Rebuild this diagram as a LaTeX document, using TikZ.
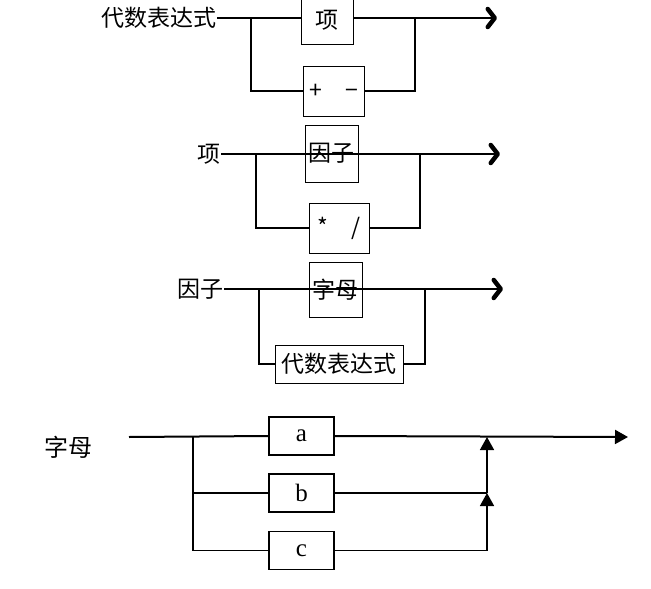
\documentclass[tikz,border=0pt]{standalone}
\usepackage{fontspec}
\setmainfont{Liberation Serif}
\newfontfamily\cjk{Noto Sans CJK SC}
\usetikzlibrary{arrows.meta, positioning}

\begin{document}
\begin{tikzpicture}[
    x=1pt, y=-1pt,
    box/.style={rectangle, draw, line width=1pt, inner sep=0pt,
                font=\cjk\fontsize{23}{23}\selectfont},
    lbl/.style={inner sep=0pt, font=\cjk\fontsize{23}{23}\selectfont},
    line/.style={line width=1.3pt},
    arrow/.style={line width=1.3pt,
                  -{Straight Barb[length=7pt, width=18pt, line width=4.5pt, round=false]}},
    letterbox/.style={rectangle, draw, line width=1.2pt,
                      minimum width=65pt, minimum height=38pt,
                      font=\fontsize{25}{25}\selectfont},
    tri/.style={line width=1.5pt, -{Triangle[length=13pt, width=14pt]}}
]
\clip (0,0) rectangle (651,589);

% Expression
\node[lbl, anchor=east] (exprlbl) at (217,18) {代数表达式};
\node[box, minimum width=52pt, minimum height=48pt] (term) at (327,20) {项};
\node[box, minimum width=61pt, minimum height=50pt] (pm) at (333.5,91) {+\quad−};
\coordinate (e1) at (251,18);
\coordinate (e2) at (415,18);
\coordinate (eend) at (497,18);
\draw[line] (exprlbl.east) -- (term.west |- e1);
\draw[arrow] (term.east |- e1) -- (eend);
\draw[line] (e1) |- (pm.west);
\draw[line] (pm.east) -| (e2);

% Term
\node[lbl, anchor=east] (termlbl) at (221,154) {项};
\coordinate (t1) at (256,154);
\coordinate (t2) at (420,154);
\coordinate (tend) at (500,154);
\draw[arrow] (termlbl.east) -- (tend);
\node[box, minimum width=53pt, minimum height=57pt] (fac) at (331.5,153.5) {因子};
\node[box, minimum width=60pt, minimum height=50pt] (md) at (339,228) {*\quad/};
\draw[line] (t1) |- (md.west);
\draw[line] (md.east) -| (t2);

% Factor
\node[lbl, anchor=east] (faclbl) at (224,289) {因子};
\coordinate (f1) at (259,289);
\coordinate (f2) at (425,289);
\coordinate (fend) at (503,289);
\draw[arrow] (faclbl.east) -- (fend);
\node[box, minimum width=53pt, minimum height=55pt] (letter) at (335.5,289.5) {字母};
\node[box, minimum width=128pt, minimum height=38pt] (expr) at (339,364) {代数表达式};
\draw[line] (f1) |- (expr.west);
\draw[line] (expr.east) -| (f2);

% Letter
\node[lbl, font=\cjk\fontsize{24}{24}\selectfont] (letlbl) at (69,447) {字母};
\coordinate (l0) at (129,437);
\coordinate (l1) at (193,437);
\coordinate (lj) at (487,437);
\coordinate (lend) at (628,437);
\node[letterbox] (a) at (301.5,436) {a};
\node[letterbox] (b) at (301.5,493) {b};
\node[letterbox] (c) at (301.5,550.5) {c};
\draw[line width=2pt] (l0) -- (a.west);
\draw[tri, line width=2pt] (a.east) -- (lend);
\draw[line width=1.5pt] (l1) |- (b.west);
\draw[line width=1.5pt] (l1) |- (c.west);
\draw[line width=1.5pt] (b.east) -- (b.east -| lj) coordinate (bj);
\draw[tri] (c.east) -| (bj);
\draw[tri] (bj) -- (lj);

\end{tikzpicture}
\end{document}
